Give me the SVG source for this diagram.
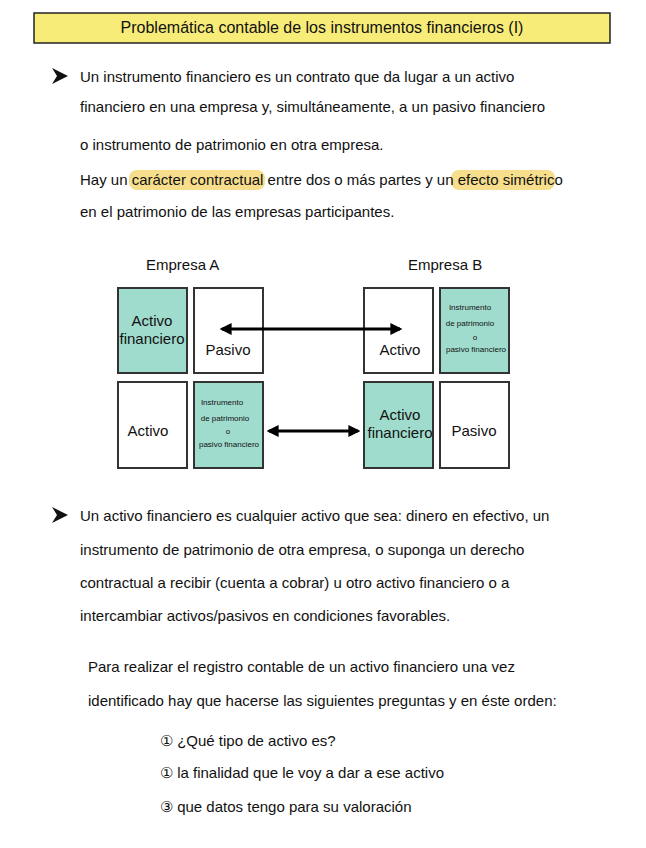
<svg xmlns="http://www.w3.org/2000/svg" width="646" height="848" viewBox="0 0 646 848">
<defs>
<style>
text{font-family:"Liberation Sans",Arial,sans-serif;fill:#111}
.t{font-size:15px}
.b{stroke:#333;stroke-width:2}
.g{fill:#a0dccd}.w{fill:#fff}
.bl{font-size:15px;text-anchor:middle}
.sm{font-size:8px;text-anchor:middle}
.c{stroke:#000;stroke-width:3;fill:none;marker-start:url(#a);marker-end:url(#a)}
</style>
<marker id="a" viewBox="0 0 10 10" refX="8" refY="5" markerWidth="4" markerHeight="4" orient="auto-start-reverse"><path d="M0,0L10,5L0,10z" fill="#000"/></marker>
</defs>
<rect width="646" height="848" fill="#fff"/>
<g id="title"><rect x="34" y="13" width="576" height="30" fill="#f8ec78" stroke="#222" stroke-width="1.5"/>
<text x="322" y="33" text-anchor="middle" font-size="16">Problemática contable de los instrumentos financieros (I)</text></g>
<g id="para1">
<rect x="129" y="170" width="136" height="20" rx="8" fill="#f6de8c"/>
<rect x="451" y="170" width="104" height="20" rx="8" fill="#f6de8c"/>
<path d="M52,68L68,76L52,84L57,76z" fill="#111"/>
<text class="t" x="80" y="82">Un instrumento financiero es un contrato que da lugar a un activo</text>
<text class="t" x="80" y="112">financiero en una empresa y, simultáneamente, a un pasivo financiero</text>
<text class="t" x="80" y="150">o instrumento de patrimonio en otra empresa.</text>
<text class="t" x="80" y="185">Hay un carácter contractual entre dos o más partes y un efecto simétrico</text>
<text class="t" x="80" y="217">en el patrimonio de las empresas participantes.</text>
</g>
<text class="t" x="146" y="270">Empresa A</text>
<text class="t" x="408" y="270">Empresa B</text>
<g id="a1"><rect class="b g" x="118" y="288" width="69" height="85"/><text class="bl" x="152" y="326">Activo</text><text class="bl" x="152" y="344">financiero</text></g>
<g id="a2"><rect class="b w" x="194" y="288" width="69" height="85"/><text class="bl" x="228" y="355">Pasivo</text></g>
<g id="b1"><rect class="b w" x="364" y="288" width="69" height="85"/><text class="bl" x="400" y="355">Activo</text></g>
<g id="b2"><rect class="b g" x="440" y="288" width="69" height="85"/><text class="sm" x="470" y="310">Instrumento</text><text class="sm" x="470" y="326">de patrimonio</text><text class="sm" x="475" y="340">o</text><text class="sm" x="476" y="352">pasivo financiero</text></g>
<g id="a3"><rect class="b w" x="118" y="382" width="69" height="86"/><text class="bl" x="148" y="436">Activo</text></g>
<g id="a4"><rect class="b g" x="194" y="382" width="69" height="86"/><text class="sm" x="222" y="405">Instrumento</text><text class="sm" x="225" y="421">de patrimonio</text><text class="sm" x="228" y="434">o</text><text class="sm" x="229" y="447">pasivo financiero</text></g>
<g id="b3"><rect class="b g" x="364" y="382" width="69" height="86"/><text class="bl" x="400" y="420">Activo</text><text class="bl" x="400" y="438">financiero</text></g>
<g id="b4"><rect class="b w" x="440" y="382" width="69" height="86"/><text class="bl" x="474" y="436">Pasivo</text></g>
<g id="connectors">
<line class="c" x1="222" y1="329" x2="400" y2="329"/>
<line class="c" x1="269" y1="431" x2="358" y2="431"/>
</g>
<g id="para2">
<path d="M52,507L68,515L52,523L57,515z" fill="#111"/>
<text class="t" x="80" y="521">Un activo financiero es cualquier activo que sea: dinero en efectivo, un</text>
<text class="t" x="80" y="555">instrumento de patrimonio de otra empresa, o suponga un derecho</text>
<text class="t" x="80" y="588">contractual a recibir (cuenta a cobrar) u otro activo financiero o a</text>
<text class="t" x="80" y="621">intercambiar activos/pasivos en condiciones favorables.</text>
<text class="t" x="88" y="672">Para realizar el registro contable de un activo financiero una vez</text>
<text class="t" x="88" y="706">identificado hay que hacerse las siguientes preguntas y en éste orden:</text>
<text class="t" x="160" y="746">① ¿Qué tipo de activo es?</text>
<text class="t" x="160" y="778">① la finalidad que le voy a dar a ese activo</text>
<text class="t" x="160" y="812">③ que datos tengo para su valoración</text>
</g>
</svg>
